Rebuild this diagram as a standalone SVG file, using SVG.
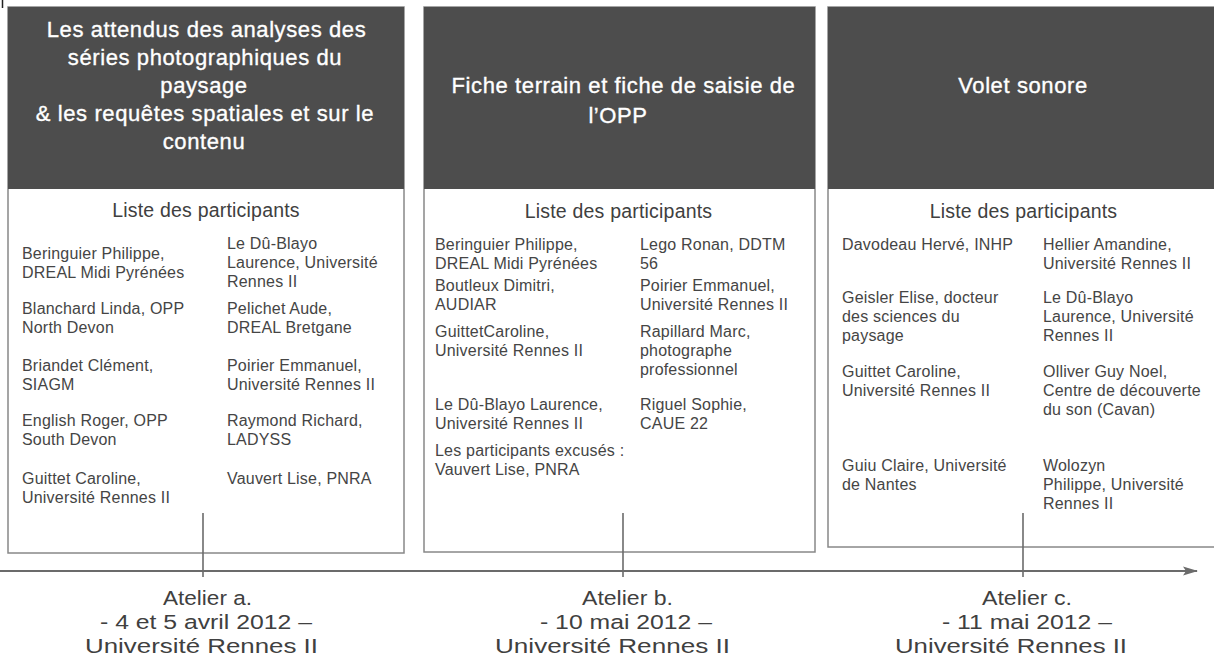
<svg xmlns="http://www.w3.org/2000/svg" width="1214" height="659" viewBox="0 0 1214 659">
<defs>
<style>
text{font-family:"Liberation Sans",Arial,sans-serif}
.box{fill:#fff;stroke:#888;stroke-width:1.5}
.hdr{fill:#4d4d4d}
.ht{font-size:22px;fill:#fff;stroke:#fff;stroke-width:0.35px;text-anchor:middle;letter-spacing:0.6px}
.lt{font-size:19.5px;fill:#404040;text-anchor:middle;letter-spacing:0.2px}
.p{font-size:16px;fill:#454545;letter-spacing:0.2px}
.tl{font-size:20.5px;fill:#404040}
.ln{stroke:#6b6b6b;stroke-width:2;fill:none}
.tk{stroke:#6b6b6b;stroke-width:1.6;fill:none}
</style>
<marker id="arr" viewBox="0 0 16 10" refX="14" refY="5" markerWidth="16" markerHeight="10" markerUnits="userSpaceOnUse" orient="auto">
<path d="M0,0.5 L15,5 L0,9.5 L3,5 Z" fill="#6b6b6b"/>
</marker>
</defs>
<rect width="1214" height="659" fill="#fff"/>
<line x1="2.5" y1="0" x2="2.5" y2="8" stroke="#222" stroke-width="1.5"/>

<g id="panel-a">
<rect class="box" x="8" y="7" width="396" height="546"/>
<rect class="hdr" x="8" y="7" width="396" height="182"/>
<text class="ht" x="206.5" y="37">Les attendus des analyses des</text>
<text class="ht" x="205" y="65">séries photographiques du</text>
<text class="ht" x="204" y="93">paysage</text>
<text class="ht" x="205" y="121">&amp; les requêtes spatiales et sur le</text>
<text class="ht" x="204" y="149">contenu</text>
<text class="lt" x="206" y="217">Liste des participants</text>
<text class="p" x="22" y="259">Beringuier Philippe,</text>
<text class="p" x="22" y="278">DREAL Midi Pyrénées</text>
<text class="p" x="22" y="314">Blanchard Linda, OPP</text>
<text class="p" x="22" y="333">North Devon</text>
<text class="p" x="22" y="371">Briandet Clément,</text>
<text class="p" x="22" y="390">SIAGM</text>
<text class="p" x="22" y="426">English Roger, OPP</text>
<text class="p" x="22" y="445">South Devon</text>
<text class="p" x="22" y="484">Guittet Caroline,</text>
<text class="p" x="22" y="503">Université Rennes II</text>
<text class="p" x="227" y="249">Le Dû-Blayo</text>
<text class="p" x="227" y="268">Laurence, Université</text>
<text class="p" x="227" y="287">Rennes II</text>
<text class="p" x="227" y="314">Pelichet Aude,</text>
<text class="p" x="227" y="333">DREAL Bretgane</text>
<text class="p" x="227" y="371">Poirier Emmanuel,</text>
<text class="p" x="227" y="390">Université Rennes II</text>
<text class="p" x="227" y="426">Raymond Richard,</text>
<text class="p" x="227" y="445">LADYSS</text>
<text class="p" x="227" y="484">Vauvert Lise, PNRA</text>
</g>

<g id="panel-b">
<rect class="box" x="424" y="7" width="391" height="545"/>
<rect class="hdr" x="424" y="7" width="391" height="182"/>
<text class="ht" x="623.5" y="93">Fiche terrain et fiche de saisie de</text>
<text class="ht" x="618" y="123">l’OPP</text>
<text class="lt" x="618.5" y="218">Liste des participants</text>
<text class="p" x="435" y="250">Beringuier Philippe,</text>
<text class="p" x="435" y="269">DREAL Midi Pyrénées</text>
<text class="p" x="435" y="291">Boutleux Dimitri,</text>
<text class="p" x="435" y="310">AUDIAR</text>
<text class="p" x="435" y="337">GuittetCaroline,</text>
<text class="p" x="435" y="356">Université Rennes II</text>
<text class="p" x="435" y="410">Le Dû-Blayo Laurence,</text>
<text class="p" x="435" y="429">Université Rennes II</text>
<text class="p" x="435" y="456">Les participants excusés :</text>
<text class="p" x="435" y="475">Vauvert Lise, PNRA</text>
<text class="p" x="640" y="250">Lego Ronan, DDTM</text>
<text class="p" x="640" y="269">56</text>
<text class="p" x="640" y="291">Poirier Emmanuel,</text>
<text class="p" x="640" y="310">Université Rennes II</text>
<text class="p" x="640" y="337">Rapillard Marc,</text>
<text class="p" x="640" y="356">photographe</text>
<text class="p" x="640" y="375">professionnel</text>
<text class="p" x="640" y="410">Riguel Sophie,</text>
<text class="p" x="640" y="429">CAUE 22</text>
</g>

<g id="panel-c">
<rect class="box" x="828" y="7" width="392" height="540"/>
<rect class="hdr" x="828" y="7" width="392" height="182"/>
<text class="ht" x="1023" y="93">Volet sonore</text>
<text class="lt" x="1023.5" y="218">Liste des participants</text>
<text class="p" x="842" y="250">Davodeau Hervé, INHP</text>
<text class="p" x="842" y="303">Geisler Elise, docteur</text>
<text class="p" x="842" y="322">des sciences du</text>
<text class="p" x="842" y="341">paysage</text>
<text class="p" x="842" y="377">Guittet Caroline,</text>
<text class="p" x="842" y="396">Université Rennes II</text>
<text class="p" x="842" y="471">Guiu Claire, Université</text>
<text class="p" x="842" y="490">de Nantes</text>
<text class="p" x="1043" y="250">Hellier Amandine,</text>
<text class="p" x="1043" y="269">Université Rennes II</text>
<text class="p" x="1043" y="303">Le Dû-Blayo</text>
<text class="p" x="1043" y="322">Laurence, Université</text>
<text class="p" x="1043" y="341">Rennes II</text>
<text class="p" x="1043" y="377">Olliver Guy Noel,</text>
<text class="p" x="1043" y="396">Centre de découverte</text>
<text class="p" x="1043" y="415">du son (Cavan)</text>
<text class="p" x="1043" y="471">Wolozyn</text>
<text class="p" x="1043" y="490">Philippe,  Université</text>
<text class="p" x="1043" y="509">Rennes II</text>
</g>

<g id="connectors">
<line class="ln" x1="0" y1="571" x2="1197" y2="571" marker-end="url(#arr)"/>
<line class="tk" x1="203" y1="513" x2="203" y2="577"/>
<line class="tk" x1="623" y1="513" x2="623" y2="577"/>
<line class="tk" x1="1023" y1="513" x2="1023" y2="577"/>
</g>

<g id="atelier-a">
<text class="tl" x="163" y="605" textLength="89" lengthAdjust="spacingAndGlyphs">Atelier a.</text>
<text class="tl" x="100" y="629" textLength="212" lengthAdjust="spacingAndGlyphs">-  4 et 5 avril 2012 –</text>
<text class="tl" x="85" y="653" textLength="233" lengthAdjust="spacingAndGlyphs">Université Rennes II</text>
</g>
<g id="atelier-b">
<text class="tl" x="582" y="605" textLength="91" lengthAdjust="spacingAndGlyphs">Atelier b.</text>
<text class="tl" x="540" y="629" textLength="172" lengthAdjust="spacingAndGlyphs">-  10 mai 2012 –</text>
<text class="tl" x="495" y="653" textLength="235" lengthAdjust="spacingAndGlyphs">Université Rennes II</text>
</g>
<g id="atelier-c">
<text class="tl" x="982" y="605" textLength="90" lengthAdjust="spacingAndGlyphs">Atelier c.</text>
<text class="tl" x="942" y="629" textLength="170" lengthAdjust="spacingAndGlyphs">-  11 mai 2012 –</text>
<text class="tl" x="895" y="653" textLength="232" lengthAdjust="spacingAndGlyphs">Université Rennes II</text>
</g>
</svg>
